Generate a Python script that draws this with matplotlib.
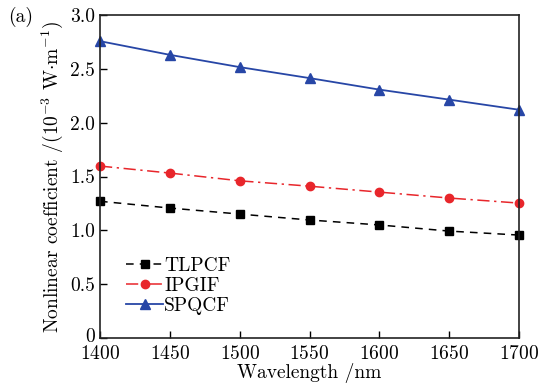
import matplotlib
matplotlib.use('Agg')
import matplotlib.pyplot as plt
from matplotlib.transforms import ScaledTranslation

wavelength = [1400, 1450, 1500, 1550, 1600, 1650, 1700]
tlpcf = [1.27, 1.207, 1.151, 1.096, 1.05, 0.993, 0.956]
ipgif = [1.597, 1.532, 1.46, 1.41, 1.355, 1.30, 1.253]
spqcf = [2.757, 2.63, 2.516, 2.414, 2.307, 2.214, 2.12]

plt.rcParams['font.family'] = 'cmr10'
plt.rcParams['mathtext.fontset'] = 'cm'
plt.rcParams['axes.formatter.use_mathtext'] = True

fig = plt.figure(figsize=(5.41, 3.85), dpi=100)
ax = fig.add_axes([100 / 541, 47 / 385, 419 / 541, 323 / 385])

ax.plot(wavelength, tlpcf, color='black', linestyle=(0, (5, 4)), marker='s',
        markersize=5.5, linewidth=1.1, label='TLPCF', clip_on=False)
ax.plot(wavelength, ipgif, color='#e8262b', linestyle=(0, (8, 3, 1.5, 3)), marker='o',
        markersize=6, linewidth=1.1, label='IPGIF', clip_on=False)
ax.plot(wavelength, spqcf, color='#2746a6', linestyle='-', marker='^',
        markersize=6.5, linewidth=1.3, label='SPQCF', clip_on=False)

ax.set_xlim(1400, 1700)
ax.set_ylim(0, 3.0)
ax.set_xticks(wavelength)
ax.set_yticks([0, 0.5, 1.0, 1.5, 2.0, 2.5, 3.0])
ax.set_yticklabels(['0', '0.5', '1.0', '1.5', '2.0', '2.5', '3.0'])
ax.tick_params(direction='in', labelsize=14, length=5, width=1, top=False, right=False)
ax.tick_params(axis='x', pad=5)
for s in ax.spines.values():
    s.set_linewidth(1.2)
    s.set_color('#222222')

# nudge the "0" label up a little so it clears "1400"
zero_lbl = ax.get_yticklabels()[0]
zero_lbl.set_transform(zero_lbl.get_transform() + ScaledTranslation(0, 3 / 100, fig.dpi_scale_trans))

ax.set_xlabel('Wavelength /nm', fontsize=14, labelpad=0)
ax.set_ylabel(r'Nonlinear coefficient /(10$^{-3}$ W$\cdot$m$^{-1}$)', fontsize=14, labelpad=4)

ax.legend(loc='lower left', bbox_to_anchor=(0.03, 0.03), frameon=False, fontsize=14,
          handlelength=1.9, handletextpad=0.05, labelspacing=0.1, borderaxespad=0.3)

fig.text(8 / 541, 1 - 22 / 385, '(a)', fontsize=14)

fig.savefig('out.png', dpi=100)
